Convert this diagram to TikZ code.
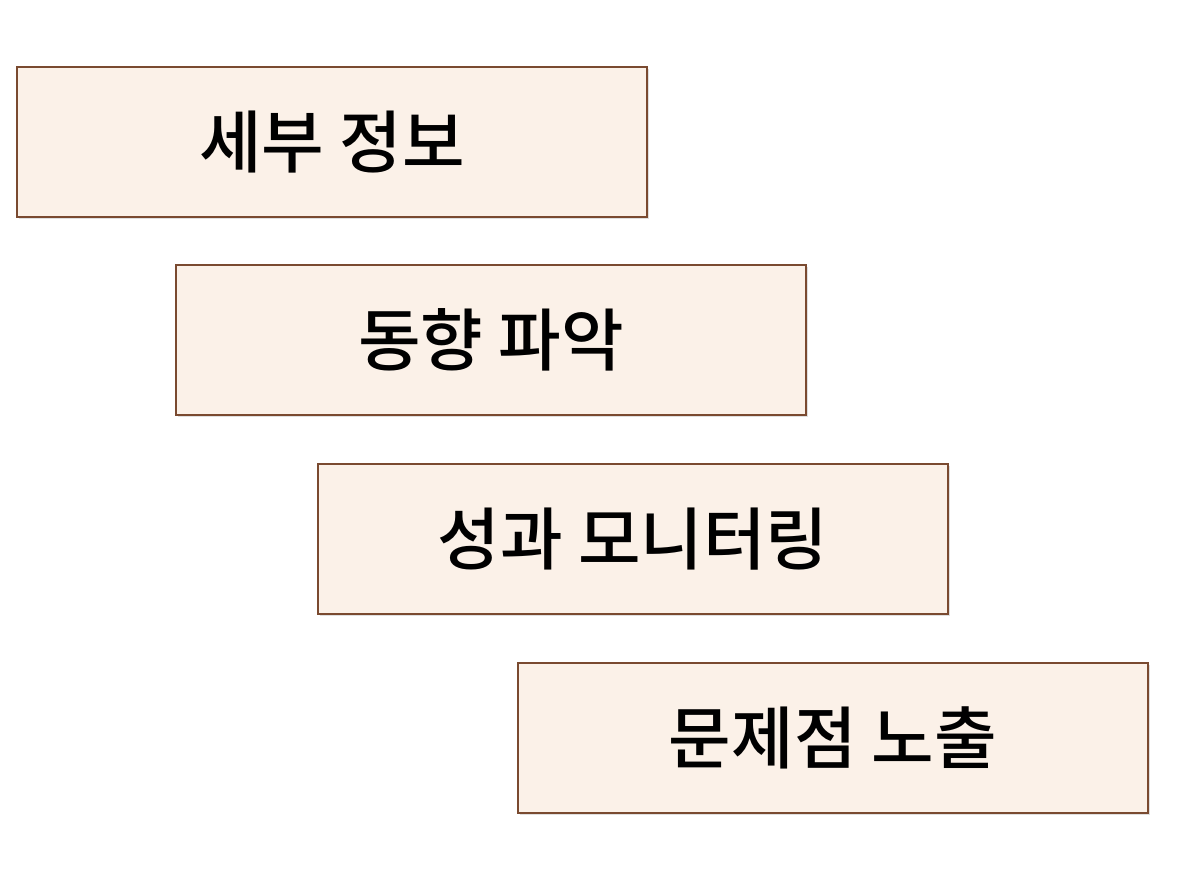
\documentclass[tikz,border=0pt]{standalone}
\usepackage{fontspec}
\newfontfamily\cjk{Noto Sans CJK KR Medium}
\usetikzlibrary{shadows}
\definecolor{boxfill}{HTML}{FBF1E8}
\definecolor{boxline}{HTML}{7A4A30}
\begin{document}
\begin{tikzpicture}[x=1pt,y=-1pt,
  stage/.style={draw=boxline,line width=2pt,fill=boxfill,minimum width=630pt,minimum height=150pt,
    inner sep=0pt,font=\cjk\fontsize{68}{68}\selectfont,
    drop shadow={shadow xshift=2pt,shadow yshift=-2pt,opacity=0.25}}]
\useasboundingbox[fill=white] (0,0) rectangle (1193,896);
\node[stage] (info) at (332,142) {세부 정보};
\node[stage] (trend) at (491,340) {동향 파악};
\node[stage] (perf) at (633,539) {성과 모니터링};
\node[stage] (issue) at (833,738) {문제점 노출};
\end{tikzpicture}
\end{document}
